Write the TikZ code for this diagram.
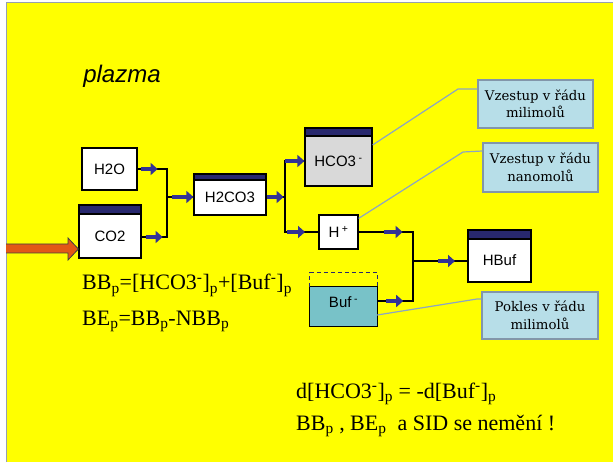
\documentclass[tikz,border=0pt]{standalone}
\usepackage{fontspec}
\setmainfont{Liberation Serif}
\setsansfont{Liberation Sans}
\newfontfamily\calfont{DejaVu Serif}
\usetikzlibrary{arrows.meta}
\definecolor{bgyellow}{RGB}{255,255,0}
\definecolor{framegray}{RGB}{150,160,175}
\definecolor{hdrblue}{RGB}{40,40,110}
\definecolor{arrblue}{RGB}{50,50,150}
\definecolor{boxgray}{RGB}{217,217,217}
\definecolor{tealfill}{RGB}{120,194,200}
\definecolor{calfill}{RGB}{183,222,232}
\definecolor{calborder}{RGB}{130,150,170}
\definecolor{leadercol}{RGB}{140,165,195}
\definecolor{orangeA}{RGB}{226,88,22}
\tikzset{
  box/.style={draw=black, line width=1.2pt, fill=white, inner sep=0pt,
    font=\sffamily\fontsize{15}{17}\selectfont, text height=10.5pt, text depth=0pt},
  hdr/.style={path picture={
      \fill[hdrblue] (path picture bounding box.north west) rectangle ([yshift=-#1]path picture bounding box.north east);
      \draw[line width=1.2pt] ([yshift=-#1]path picture bounding box.north west) -- ([yshift=-#1]path picture bounding box.north east);}},
  bufbox/.style={inner sep=0pt, font=\sffamily\fontsize{15}{17}\selectfont, text height=16pt, text depth=0pt,
    path picture={\fill[tealfill] ([yshift=-14pt]path picture bounding box.north west) rectangle (path picture bounding box.south east);}},
  wire/.style={draw=black, line width=1.4pt},
  barrow/.style={draw=arrblue, line width=4.5pt, -{Triangle[length=7pt,width=12pt]}},
  callout/.style={draw=calborder, line width=1.4pt, fill=calfill, align=center, inner sep=0pt,
    font=\calfont\fontsize{13.3}{17.5}\selectfont, minimum width=115pt, minimum height=48pt},
  leader/.style={draw=leadercol, line width=1.2pt},
  formula/.style={font=\fontsize{22}{26}\selectfont, inner sep=0pt, anchor=base west}
}
\begin{document}
\begin{tikzpicture}[x=1pt,y=-1pt]
\useasboundingbox (0,0) rectangle (613,462);
\fill[white] (0,0) rectangle (613,462);
\fill[bgyellow] (6,3) rectangle (613,462);
\draw[framegray, line width=1pt] (6,462) -- (6,3) -- (613,3);

% title
\node[font=\sffamily\itshape\fontsize{24}{28}\selectfont, inner sep=0pt] (title) at (122,76) {plazma};

% boxes
\node[box, minimum width=55pt, minimum height=42pt] (h2o) at (109.5,169) {H2O};
\node[box, hdr=9pt, text height=19.5pt, minimum width=62pt, minimum height=53pt] (co2) at (110,231.5) {CO2};
\node[box, hdr=6pt, text height=16.5pt, minimum width=72pt, minimum height=41pt] (h2co3) at (230,194.5) {H2CO3};
\node[box, fill=boxgray, hdr=8pt, text height=18.5pt, minimum width=67pt, minimum height=58pt] (hco3) at (338.5,157) {HCO3\,\textsuperscript{-}};
\node[box, minimum width=39pt, minimum height=34pt] (hplus) at (338.5,232) {H\,\textsuperscript{+}};
\node[box, hdr=9pt, text height=19.5pt, minimum width=63pt, minimum height=52pt] (hbuf) at (499.5,256) {HBuf};
\node[bufbox, minimum width=67pt, minimum height=53pt] (buf) at (343.5,299.5) {Buf\,\textsuperscript{-}};
\draw[line width=1.2pt] ([yshift=-14pt]buf.north west) -- (buf.south west) -- (buf.south east) -- ([yshift=-14pt]buf.north east) -- cycle;
\draw[hdrblue, line width=1.2pt, dash pattern=on 4pt off 3pt] ([yshift=-14pt]buf.north west) -- (buf.north west) -- (buf.north east) -- ([yshift=-14pt]buf.north east);

% junctions
\coordinate (j1) at (167,197);
\coordinate (j2) at (285,197);
\coordinate (j3) at (413,261);
\coordinate (hco3in) at ([yshift=-4pt]hco3.west);
\coordinate (co2out) at ([yshift=-5.5pt]co2.east);
\coordinate (bufout) at ([yshift=-1.5pt]buf.east);

% wires
\draw[wire] (h2o.east) -| (j1);
\draw[wire] (co2out) -| (j1);
\draw[wire] (j1) -- (h2co3.west |- j1);
\draw[wire] (h2co3.east |- j2) -- (j2);
\draw[wire] (hco3in) -| (j2);
\draw[wire] (hplus.west) -| (j2);
\draw[wire] (hplus.east) -| (j3);
\draw[wire] (bufout) -| (j3);
\draw[wire] (j3) -- (hbuf.west |- j3);

% blue arrows
\draw[barrow] ([xshift=3pt]h2o.east) -- ++(17,0);
\draw[barrow] ([xshift=4pt]co2out) -- ++(17,0);
\draw[barrow] ([xshift=5pt]j1) -- (h2co3.west |- j1);
\draw[barrow] (h2co3.east |- j2) -- ++(17,0);
\draw[barrow] (j2 |- hco3in) -- (hco3in);
\draw[barrow] ([xshift=2pt]j2 |- hplus.west) -- ++(18,0);
\draw[barrow] ([xshift=25pt]hplus.east) -- ++(19,0);
\draw[barrow] ([xshift=9pt]bufout) -- ++(17,0);
\draw[barrow] ([xshift=25pt]j3) -- ++(17,0);

% orange input arrow
\coordinate (tip) at (co2.west |- 0,249);
\draw[fill=orangeA, draw=black!75, line width=0.8pt]
  (6,244) -- (68,244) -- (68,238) -- (tip) -- (68,260) -- (68,253) -- (6,253);

% callouts
\node[callout] (c1) at (535.5,104) {Vzestup v řádu\\milimolů};
\node[callout, minimum height=49pt] (c2) at (540.5,167.5) {Vzestup v řádu\\nanomolů};
\node[callout, minimum width=116pt, minimum height=47pt] (c3) at (540,315.5) {Pokles v řádu\\milimolů};
\draw[leader] ([yshift=12pt]hco3.east) -- (458,89) -- ([yshift=15pt]c1.west);
\draw[leader] ([yshift=-4pt]hplus.north east) -- (463,152) -- ([yshift=16.5pt]c2.west);
\draw[leader] ([yshift=-15.5pt]buf.east) -- (477,299) -- ([yshift=16.5pt]c3.west);

% formulas
\node[formula] (f1) at (82,290) {BB\textsubscript{p}=[HCO3\textsuperscript{-}]\textsubscript{p}+[Buf\textsuperscript{-}]\textsubscript{p}};
\node[formula] (f2) at (82,325) {BE\textsubscript{p}=BB\textsubscript{p}-NBB\textsubscript{p}};
\node[formula] (f3) at (296,398) {d[HCO3\textsuperscript{-}]\textsubscript{p} = -d[Buf\textsuperscript{-}]\textsubscript{p}};
\node[formula] (f4) at (296,430) {BB\textsubscript{p} , BE\textsubscript{p}\ \ a SID se nemění !};
\end{tikzpicture}
\end{document}
